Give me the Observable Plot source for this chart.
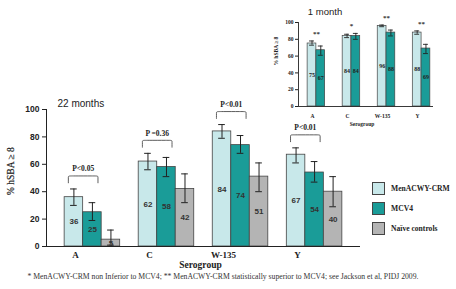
<!DOCTYPE html>
<html><head><meta charset="utf-8">
<script src="https://cdn.jsdelivr.net/npm/d3@7"></script>
<script src="https://cdn.jsdelivr.net/npm/@observablehq/plot@0.6"></script>
<style>
body{margin:0;background:#fff}
#wrap{position:relative;width:456px;height:289px;overflow:hidden}
#wrap svg{position:absolute}
.leg{position:absolute;display:flex;align-items:center;font-family:'Liberation Serif','Times New Roman',serif;font-weight:bold;font-size:7.6px;color:#222;white-space:nowrap}
.leg .box{width:13px;height:13px;border:0.8px solid #444;margin-right:6px;box-sizing:border-box}
</style>
</head><body><div id="wrap"></div>
<script>
// ---- data ----
const groups = ["A", "C", "W-135", "Y"];
const series = ["MenACWY-CRM", "MCV4", "Naïve controls"];
const colors = ["#c8e8ea", "#1a9c98", "#b4b4b4"];
const yTicks = [0, 20, 40, 60, 80, 100];

// 22 months
const crm22 = [36, 62, 84, 67];
const crm22Lo = [30, 56, 79, 61];
const crm22Hi = [42, 68, 89, 72];
const mcv22 = [25, 58, 74, 54];
const mcv22Lo = [19, 51, 68, 47];
const mcv22Hi = [32, 65, 81, 62];
const naive22 = [5, 42, 51, 40];
const naive22Lo = [1, 32, 40, 29];
const naive22Hi = [12, 53, 61, 51];
const pValues = ["P<0.05", "P =0.36", "P<0.01", "P<0.01"];

// 1 month
const crm1 = [75, 84, 96, 88];
const crm1Lo = [73, 82, 95, 86];
const crm1Hi = [78, 86, 97, 90];
const mcv1 = [67, 84, 88, 69];
const mcv1Lo = [61, 80, 84, 63];
const mcv1Hi = [72, 87, 91, 74];
const stars1 = ["**", "*", "**", "**"];

const caption = "* MenACWY-CRM non Inferior to MCV4; ** MenACWY-CRM statistically superior to MCV4; see Jackson et al, PIDJ 2009.";

// ---- helpers ----
const serif = "'Liberation Serif','Times New Roman',serif";
const sans = "'Liberation Sans',Arial,sans-serif";
const BW = 0.25;
const wrap = document.getElementById("wrap");

// ---- main chart (22 months) ----
const mainSets = [
  {v: crm22, lo: crm22Lo, hi: crm22Hi},
  {v: mcv22, lo: mcv22Lo, hi: mcv22Hi},
  {v: naive22, lo: naive22Lo, hi: naive22Hi}
];
const rows = [];
mainSets.forEach((m, j) => groups.forEach((g, i) => rows.push({
  g, i, j, s: series[j], v: m.v[i], lo: m.lo[i], hi: m.hi[i], x: i + (j - 1) * BW
})));
const br = groups.map((g, i) => {
  const b = Math.max(crm22Hi[i], mcv22Hi[i]) + 4.5;
  return {g, i, b, c: i - BW / 2, p: pValues[i]};
});
const brPts = br.flatMap(d => [
  [d.c - 0.2, d.b], [d.c - 0.2, d.b + 4], [d.c - 0.2, d.b + 5], [d.c - 0.15, d.b + 5],
  [d.c + 0.15, d.b + 5], [d.c + 0.2, d.b + 5], [d.c + 0.2, d.b + 4], [d.c + 0.2, d.b]
].map(([x, y]) => ({g: d.g, x, y})));

const xDom = [-0.62, 3.62];
const mainPlot = Plot.plot({
  width: 456, height: 289,
  marginLeft: 46, marginRight: 96, marginTop: 109, marginBottom: 43,
  style: {background: "transparent", fontFamily: sans, color: "#222"},
  x: {domain: xDom},
  y: {domain: [0, 100]},
  color: {domain: series, range: colors},
  marks: [
    Plot.rectY(rows, {x1: d => d.x - BW / 2, x2: d => d.x + BW / 2, y1: 0, y2: "v", fill: "s", stroke: "#444", strokeWidth: 0.8}),
    Plot.ruleX(rows, {x: "x", y1: "lo", y2: "hi", stroke: "#222", strokeWidth: 1}),
    Plot.ruleY(rows, {x1: d => d.x - 0.045, x2: d => d.x + 0.045, y: "hi", stroke: "#222", strokeWidth: 1}),
    Plot.ruleY(rows, {x1: d => d.x - 0.045, x2: d => d.x + 0.045, y: "lo", stroke: "#222", strokeWidth: 1}),
    Plot.text(rows, {x: "x", y: d => d.v / 2, text: d => String(d.v), fontSize: 8, fontWeight: "bold", fontFamily: sans, fill: "#333"}),
    Plot.line(brPts, {x: "x", y: "y", z: "g", curve: "basis", stroke: "#333", strokeWidth: 0.8}),
    Plot.text(br, {x: "c", y: d => d.b + 5, text: "p", dy: -7, fontSize: 7.5, fontWeight: "bold", fontFamily: serif, fill: "#222"}),
    Plot.ruleY([0], {stroke: "#222", strokeWidth: 1}),
    Plot.ruleX([xDom[0]], {stroke: "#222", strokeWidth: 1}),
    Plot.axisY({ticks: yTicks, tickSize: 4, tickPadding: 3, fontWeight: "bold", fontSize: 8.5, fontFamily: sans, label: null, stroke: "#222"}),
    Plot.axisX({ticks: [0, 1, 2, 3], tickFormat: i => groups[i], tickSize: 0, tickPadding: 5, dx: -17, fontWeight: "bold", fontSize: 9, fontFamily: serif, label: null}),
    Plot.text(["Serogroup"], {frameAnchor: "bottom", dx: -3, dy: 21, fontWeight: "bold", fontSize: 9.5, fontFamily: serif, fill: "#222"}),
    Plot.text(["% hSBA ≥ 8"], {frameAnchor: "left", rotate: -90, dx: -36, dy: 17, fontSize: 9.5, fontFamily: serif, fill: "#222", stroke: "#222", strokeWidth: 0.2}),
    Plot.text(["22 months"], {frameAnchor: "top-left", textAnchor: "start", dx: 11, dy: -10, fontSize: 10, fontFamily: sans, fill: "#222"}),
    Plot.text([caption], {frameAnchor: "bottom-left", textAnchor: "start", dx: -19, dy: 32, fontSize: 7.7, fontFamily: serif, fill: "#333"})
  ]
});
mainPlot.style.left = "0px"; mainPlot.style.top = "0px";
wrap.appendChild(mainPlot);

// ---- inset chart (1 month) ----
const insetSets = [
  {v: crm1, lo: crm1Lo, hi: crm1Hi},
  {v: mcv1, lo: mcv1Lo, hi: mcv1Hi}
];
const irows = [];
insetSets.forEach((m, j) => groups.forEach((g, i) => irows.push({
  g, i, j, s: series[j], v: m.v[i], lo: m.lo[i], hi: m.hi[i], x: i + (j - 0.5) * BW
})));
const istars = groups.map((g, i) => ({i, t: stars1[i], y: Math.max(crm1Hi[i], mcv1Hi[i])}));
const ixDom = [-0.51, 3.34];
const insetPlot = Plot.plot({
  width: 200, height: 130,
  marginLeft: 48, marginRight: 17, marginTop: 22, marginBottom: 24,
  style: {background: "transparent", fontFamily: serif, color: "#222"},
  x: {domain: ixDom},
  y: {domain: [0, 100]},
  color: {domain: series, range: colors},
  marks: [
    Plot.rectY(irows, {x1: d => d.x - BW / 2, x2: d => d.x + BW / 2, y1: 0, y2: "v", fill: "s", stroke: "#444", strokeWidth: 0.7}),
    Plot.ruleX(irows, {x: "x", y1: "lo", y2: "hi", stroke: "#222", strokeWidth: 0.9}),
    Plot.ruleY(irows, {x1: d => d.x - 0.07, x2: d => d.x + 0.07, y: "hi", stroke: "#222", strokeWidth: 0.9}),
    Plot.ruleY(irows, {x1: d => d.x - 0.07, x2: d => d.x + 0.07, y: "lo", stroke: "#222", strokeWidth: 0.9}),
    Plot.text(irows, {x: "x", y: d => d.v / 2, text: d => String(d.v), fontSize: 6, fontWeight: "bold", fontStyle: d => d.j === 0 ? "italic" : "normal", fontFamily: serif, fill: "#222"}),
    Plot.text(istars, {x: "i", y: "y", text: "t", dy: -7.5, fontSize: 7, fontWeight: "bold", fontFamily: serif, fill: "#333"}),
    Plot.ruleY([0], {stroke: "#222", strokeWidth: 0.9}),
    Plot.ruleX([ixDom[0]], {stroke: "#222", strokeWidth: 0.9}),
    Plot.axisY({ticks: yTicks, tickSize: 3, tickPadding: 2, fontWeight: "bold", fontSize: 5.5, fontFamily: serif, label: null, stroke: "#222", style: {letterSpacing: "0.8px"}}),
    Plot.axisX({ticks: [0, 1, 2, 3], tickFormat: i => groups[i], tickSize: 0, tickPadding: 8, dx: -4, fontWeight: "bold", fontSize: 5.5, fontFamily: serif, label: null}),
    Plot.text(["Serogroup"], {frameAnchor: "bottom", dx: -4, dy: 19, fontWeight: "bold", fontSize: 5.5, fontFamily: serif, fill: "#222"}),
    Plot.text(["% hSBA ≥ 8"], {frameAnchor: "left", rotate: -90, dx: -22, dy: 1, fontSize: 5.5, fontFamily: serif, fontWeight: "bold", fill: "#222"}),
    Plot.text(["1 month"], {frameAnchor: "top", dx: -41, dy: -14, fontSize: 9.5, fontFamily: sans, fill: "#222"})
  ]
});
insetPlot.style.left = "250px"; insetPlot.style.top = "0px";
wrap.appendChild(insetPlot);

// ---- legend ----
series.forEach((s, j) => {
  const d = document.createElement("div");
  d.className = "leg";
  d.style.left = "372px";
  d.style.top = (181.5 + j * 20.3) + "px";
  const b = document.createElement("div");
  b.className = "box";
  b.style.background = colors[j];
  const t = document.createElement("span");
  t.textContent = s;
  d.appendChild(b); d.appendChild(t);
  wrap.appendChild(d);
});
</script>
</body></html>
